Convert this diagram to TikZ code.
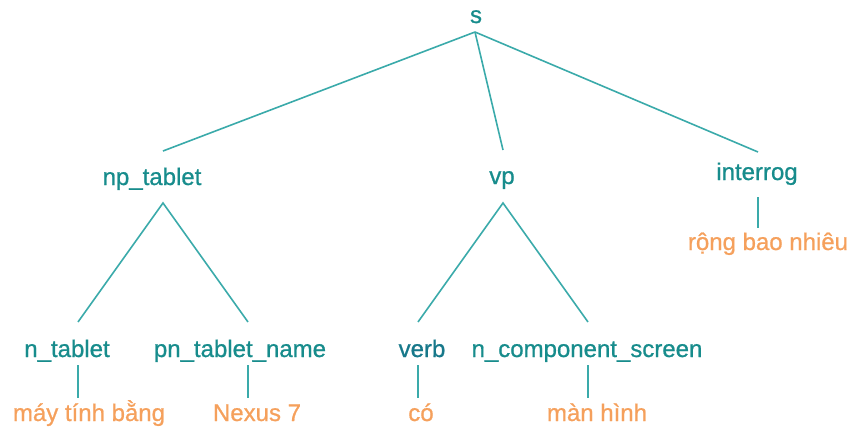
\documentclass[tikz,border=0pt]{standalone}
\usepackage{fontspec}
\setmainfont{Liberation Sans}
\newfontfamily\medfont{Liberation Sans}[FakeBold=0.8]
\definecolor{tealtext}{HTML}{178C8C}
\definecolor{verbtext}{HTML}{17788A}
\definecolor{tealline}{HTML}{3AAAAA}
\definecolor{leaforange}{HTML}{F5A05C}
\begin{document}
\begin{tikzpicture}[x=1pt,y=-1pt,
  lbl/.style={text=tealtext, font=\medfont\fontsize{24}{28}\selectfont, anchor=base, inner sep=0pt},
  leaf/.style={text=leaforange, font=\medfont\fontsize{24}{28}\selectfont, anchor=base, inner sep=0pt},
  edge/.style={draw=tealline, line width=1.6pt}]
\useasboundingbox (0,0) rectangle (852,432);
% nodes
\node[lbl] (s) at (476,23) {s};
\node[lbl] (np) at (152,185) {np\_tablet};
\node[lbl] (vp) at (502,184) {vp};
\node[lbl] (interrog) at (757,180) {interrog};
\node[lbl] (ntab) at (67,357) {n\_tablet};
\node[lbl] (pnname) at (240,357) {pn\_tablet\_name};
\node[lbl, text=verbtext] (verb) at (422,357) {verb};
\node[lbl] (ncomp) at (587,357) {n\_component\_screen};
\node[leaf] (l1) at (89,421) {máy tính bằng};
\node[leaf] (l2) at (257,421) {Nexus 7};
\node[leaf] (l3) at (421,421) {có};
\node[leaf] (l4) at (597,421) {màn hình};
\node[leaf] (l5) at (768,250) {rộng bao nhiêu};
% junction points
\coordinate (sB) at (475,32);
\coordinate (npT) at (163,151);
\coordinate (vpT) at (503,150);
\coordinate (inT) at (758,152);
\coordinate (npB) at (163,203);
\coordinate (vpB) at (503,203);
\coordinate (ntabT) at (78,322);
\coordinate (pnT) at (248,322);
\coordinate (verbT) at (418,322);
\coordinate (ncompT) at (588,322);
\coordinate (ntabB) at (78,365);
\coordinate (l1T) at (78,398);
\coordinate (pnB) at (248,365);
\coordinate (l2T) at (248,398);
\coordinate (verbB) at (418,365);
\coordinate (l3T) at (418,398);
\coordinate (ncompB) at (588,365);
\coordinate (l4T) at (588,398);
\coordinate (inB) at (758,197);
\coordinate (l5T) at (758,228);
% edges
\draw[edge] (sB) -- (npT);
\draw[edge] (sB) -- (vpT);
\draw[edge] (sB) -- (inT);
\draw[edge] (ntabT) -- (npB) -- (pnT);
\draw[edge] (verbT) -- (vpB) -- (ncompT);
\draw[edge] (ntabB) -- (l1T);
\draw[edge] (pnB) -- (l2T);
\draw[edge] (verbB) -- (l3T);
\draw[edge] (ncompB) -- (l4T);
\draw[edge] (inB) -- (l5T);
\end{tikzpicture}
\end{document}
